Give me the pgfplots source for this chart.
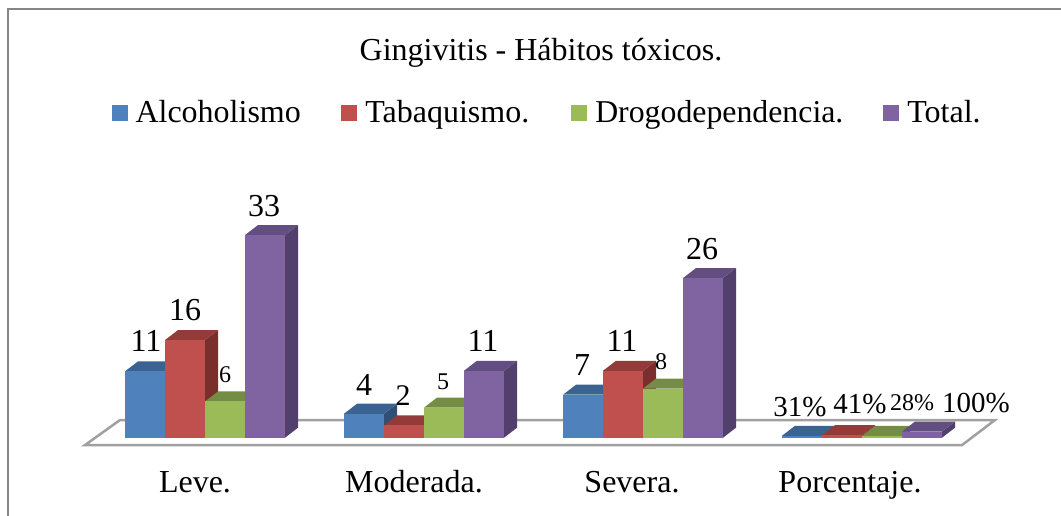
\documentclass[border=0pt]{standalone}
\usepackage{pgfplots}
\pgfplotsset{compat=1.18}
\usepackage{fontspec}
\setmainfont{Liberation Serif}
\definecolor{bluef}{HTML}{4F81BD}\definecolor{bluet}{HTML}{3B6391}\definecolor{blues}{HTML}{2F4F75}
\definecolor{redf}{HTML}{C0504D}\definecolor{redt}{HTML}{923B39}\definecolor{reds}{HTML}{7A2F2D}
\definecolor{greenf}{HTML}{9BBB59}\definecolor{greent}{HTML}{748C43}\definecolor{greens}{HTML}{5F7637}
\definecolor{purplef}{HTML}{8064A2}\definecolor{purplet}{HTML}{634E81}\definecolor{purples}{HTML}{533F6C}
\definecolor{framegray}{HTML}{868686}
\definecolor{floorgray}{HTML}{A0A0A0}
\newcommand{\barthree}[3]{%
  \pgfmathsetmacro\xa{#1}\pgfmathsetmacro\xb{#1+40}\pgfmathsetmacro\xc{#1+53}%
  \pgfmathsetmacro\xd{#1+13}\pgfmathsetmacro\ya{#2+1.63}\pgfmathsetmacro\xm{#1+20}%
  \edef\temp{%
    \noexpand\addplot[forget plot,fill=#3s,draw=none] coordinates {(\xb,0) (\xc,1.63) (\xc,\ya) (\xb,#2)} --cycle;
    \noexpand\addplot[forget plot,fill=#3t,draw=none] coordinates {(\xa,#2) (\xd,\ya) (\xc,\ya) (\xb,#2)} --cycle;
    \noexpand\addplot[forget plot,ybar,bar width=40,bar shift=0pt,fill=#3f,draw=none] coordinates {(\xm,#2)};
  }\temp}
\newcommand{\lab}[4]{%
  \pgfmathsetmacro\ly{(437.7-#2)/6.14}%
  \edef\temp{\noexpand\node[inner sep=0pt,anchor=center] at (axis cs:#1,\ly) {\noexpand\fontsize{#3}{#3}\noexpand\selectfont #4};}\temp}
\begin{document}
\begin{tikzpicture}
\begin{axis}[
  scale only axis, width=1061pt, height=516pt,
  xmin=0, xmax=1061, ymin=-12.752, ymax=71.287,
  clip=false,
  axis line style={draw=none},
  tick style={draw=none},
  ytick=\empty,
  xtick={195,414,632,850},
  xticklabels={Leve.,Moderada.,Severa.,Porcentaje.},
  x tick label style={anchor=base,yshift=23pt,font=\fontsize{32}{32}\selectfont},
  title={Gingivitis - Hábitos tóxicos.},
  title style={at={(0.5099,0.8705)},anchor=base,font=\fontsize{32}{32}\selectfont,inner sep=0pt},
  legend columns=4,
  legend style={at={(axis cs:111.5,52.95)},anchor=west,draw=none,fill=none,inner sep=0pt,outer sep=0pt,
    font=\fontsize{32}{32}\selectfont,
    /tikz/column 1/.style={column sep=6pt},
    /tikz/column 2/.style={column sep=38.5pt},
    /tikz/column 3/.style={column sep=6pt},
    /tikz/column 4/.style={column sep=40pt},
    /tikz/column 5/.style={column sep=6pt},
    /tikz/column 6/.style={column sep=38pt},
    /tikz/column 7/.style={column sep=6pt}},
  legend image code/.code={\path[#1] (0pt,-8pt) rectangle (16pt,8pt);},
]
\addlegendimage{fill=bluef,draw=none}\addlegendentry{Alcoholismo}
\addlegendimage{fill=redf,draw=none}\addlegendentry{Tabaquismo.}
\addlegendimage{fill=greenf,draw=none}\addlegendentry{\fontsize{31.8}{32}\selectfont Drogodependencia.}
\addlegendimage{fill=purplef,draw=none}\addlegendentry{Total.}
% frame
\addplot[forget plot,framegray,line width=2.5pt] coordinates {(8,-12.752) (8,69.8) (1061,69.8)};
% floor
\addplot[forget plot,floorgray,line width=2.5pt] coordinates {(85,-1.2) (120,2.88) (995,2.88) (962,-1.2)} --cycle;
% Leve.
\barthree{125}{10.8}{blue}\barthree{165}{15.9}{red}\barthree{205}{5.9}{green}\barthree{245}{33}{purple}
% Moderada.
\barthree{344}{3.9}{blue}\barthree{384}{2}{red}\barthree{424}{4.9}{green}\barthree{464}{10.9}{purple}
% Severa.
\barthree{563}{7}{blue}\barthree{603}{10.9}{red}\barthree{643}{8}{green}\barthree{683}{26}{purple}
% Porcentaje.
\barthree{782}{0.31}{blue}\barthree{822}{0.41}{red}\barthree{862}{0.28}{green}\barthree{902}{1}{purple}
\lab{146}{341}{32}{11}\lab{185}{310}{32}{16}\lab{225}{375}{24}{6}\lab{264}{206}{32}{33}
\lab{364}{385}{32}{4}\lab{403}{396}{30}{2}\lab{443}{382}{24}{5}\lab{483}{341}{32}{11}
\lab{582}{365}{32}{7}\lab{622}{341}{32}{11}\lab{661}{362}{24}{8}\lab{702}{249}{32}{26}
\lab{800}{407}{29}{31\%}\lab{860}{404}{29}{41\%}\lab{912}{403}{24}{28\%}\lab{976}{403}{29}{100\%}
\end{axis}
\pgfresetboundingbox
\path (0,0) rectangle (1061pt,516pt);
\end{tikzpicture}
\end{document}
